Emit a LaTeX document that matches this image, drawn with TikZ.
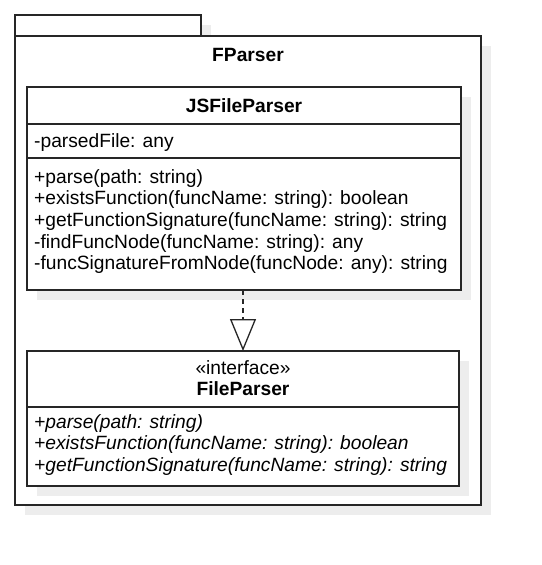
\documentclass[tikz,border=0pt]{standalone}
\usepackage{fontspec}
\setmainfont{Liberation Sans}
\usetikzlibrary{arrows.meta}
\begin{document}
\begin{tikzpicture}[x=1pt,y=-1pt,
  linec/.style={draw=black!85, line width=1.3pt},
  shade/.style={fill=black!7, draw=none},
  box/.style={linec, fill=white, anchor=north west, inner sep=0pt, outer sep=0pt},
  txt/.style={anchor=base west, inner sep=0pt, font=\fontsize{19.2}{21}\selectfont},
  ctxt/.style={anchor=base, inner sep=0pt, font=\fontsize{19.2}{21}\selectfont},
  btxt/.style={anchor=base, inner sep=0pt, font=\fontsize{19.2}{21}\selectfont\bfseries},
  itxt/.style={anchor=base west, inner sep=0pt, font=\fontsize{19.2}{21}\selectfont\itshape},
]
\useasboundingbox (0,0) rectangle (541,565);
% package shadows
\fill[shade] (25,25) rectangle (211,46);
\fill[shade] (25,46) rectangle (491,515);
% package
\node[box, minimum width=186pt, minimum height=21pt] (tab) at (15,15) {};
\node[box, minimum width=466pt, minimum height=469pt] (pkg) at (15,36) {};
\node[btxt] (pkgname) at (248,61.5) {FParser};
% JSFileParser
\fill[shade] (37,97) rectangle (471,300);
\node[box, minimum width=434pt, minimum height=203pt] (js) at (27,87) {};
\draw[linec] (27,124) -- (461,124);
\draw[linec] (27,158) -- (461,158);
\node[btxt] (jsname) at (244,112) {JSFileParser};
\node[txt] (jsa1) at (34,147) {-parsedFile: any};
\node[txt] (jsm1) at (34,183) {+parse(path: string)};
\node[txt] (jsm2) at (34,204.7) {+existsFunction(funcName: string): boolean};
\node[txt] (jsm3) at (34,226.4) {+getFunctionSignature(funcName: string): string};
\node[txt] (jsm4) at (34,248.1) {-findFuncNode(funcName: string): any};
\node[txt] (jsm5) at (34,269.8) {-funcSignatureFromNode(funcNode: any): string};
% FileParser
\fill[shade] (37,361) rectangle (469,496);
\node[box, minimum width=432pt, minimum height=135pt] (fp) at (27,351) {};
\draw[linec] (27,407) -- (459,407);
\node[ctxt] (stereo) at (243,374) {«interface»};
\node[btxt] (fpname) at (243,395) {FileParser};
\node[itxt] (fpm1) at (34,428) {+parse(path: string)};
\node[itxt] (fpm2) at (34,449.7) {+existsFunction(funcName: string): boolean};
\node[itxt] (fpm3) at (34,471.4) {+getFunctionSignature(funcName: string): string};
% realization
\coordinate (jsb) at (243,290);
\coordinate (fpt) at (243,351);
\draw[linec, dash pattern=on 5pt off 4pt, -{Triangle[open, length=32pt, width=26pt, line width=1.3pt]}] (jsb) -- (fpt);
\end{tikzpicture}
\end{document}
